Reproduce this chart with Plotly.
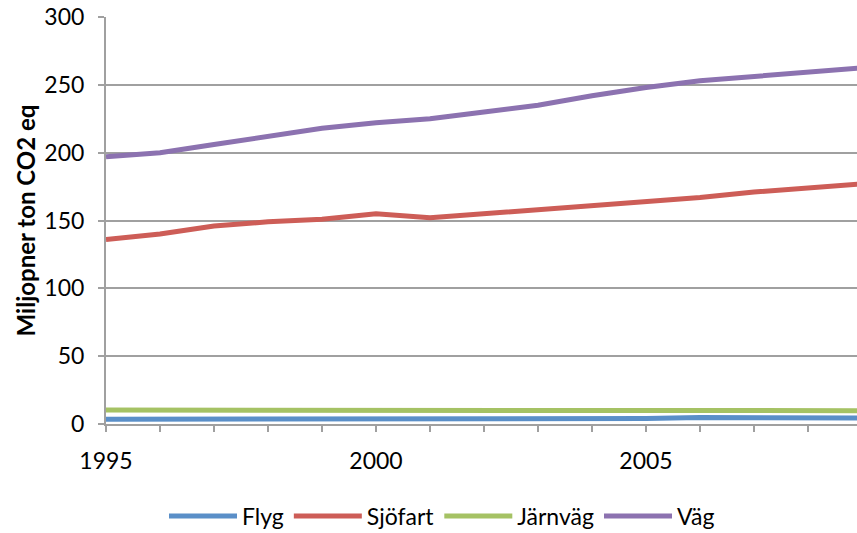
import plotly.graph_objects as go

# Utsläpp per transportslag, miljoner ton CO2-ekvivalenter
years = list(range(1995, 2010))
flyg = [3.5, 3.5, 3.5, 3.8, 3.8, 4.2, 4.0, 4.0, 4.0, 4.0, 4.0, 4.8, 4.8, 4.5, 4.5]
sjofart = [136, 140, 146, 149, 151, 155, 152, 155, 158, 161, 164, 167, 171, 174, 177]
jarnvag = [10.3, 10.3, 10.3, 10.4, 10.4, 10.4, 10.0, 10.0, 10.0, 10.0, 10.0, 10.0, 9.8, 9.8, 9.8]
vag = [197, 200, 206, 212, 218, 222, 225, 230, 235, 242, 248, 253, 256, 259, 262.5]

series = [
    ("Flyg", flyg, "#5A8FC8"),
    ("Sjöfart", sjofart, "#CD5D57"),
    ("Järnväg", jarnvag, "#A5C264"),
    ("Väg", vag, "#8C72B0"),
]

font_family = "Lato, 'Open Sans', sans-serif"

fig = go.Figure()
for name, vals, color in series:
    fig.add_trace(go.Scatter(
        x=years, y=vals, name=name, mode="lines",
        line=dict(color=color, width=5),
    ))

fig.update_layout(
    width=857, height=533,
    margin=dict(l=106, r=0, t=17, b=109, autoexpand=False),
    paper_bgcolor="white", plot_bgcolor="white",
    font=dict(family=font_family, size=23, color="black"),
    showlegend=True,
    legend=dict(
        orientation="h", xref="container", x=164 / 857, xanchor="left",
        yref="container", y=17 / 533, yanchor="middle",
        font=dict(size=23), itemwidth=68, traceorder="normal",
    ),
)

fig.update_xaxes(
    range=[1995, 1995 + 751 / 54],
    tickvals=[1995, 2000, 2005], ticktext=["1995", "2000", "2005"],
    ticks="outside", ticklen=6, tickcolor="#A0A0A0", tickwidth=2,
    minor=dict(dtick=1, tick0=1995, ticks="outside", ticklen=6,
               tickcolor="#A0A0A0", tickwidth=2, showgrid=False),
    showgrid=False, showline=True, linecolor="#A0A0A0", linewidth=2,
    zeroline=False, tickfont=dict(size=23), ticklabelstandoff=9,
)

fig.update_yaxes(
    range=[0, 300], tickvals=[0, 50, 100, 150, 200, 250, 300],
    ticks="outside", ticklen=6, tickcolor="#A0A0A0", tickwidth=2,
    showgrid=True, gridcolor="#A0A0A0", gridwidth=2,
    showline=True, linecolor="#A0A0A0", linewidth=2, zeroline=False,
    tickfont=dict(size=23), ticklabelstandoff=9,
    title=dict(text="<b>Miljopner ton CO2 eq</b>", font=dict(size=24), standoff=2),
)

fig.write_html("out.html")
